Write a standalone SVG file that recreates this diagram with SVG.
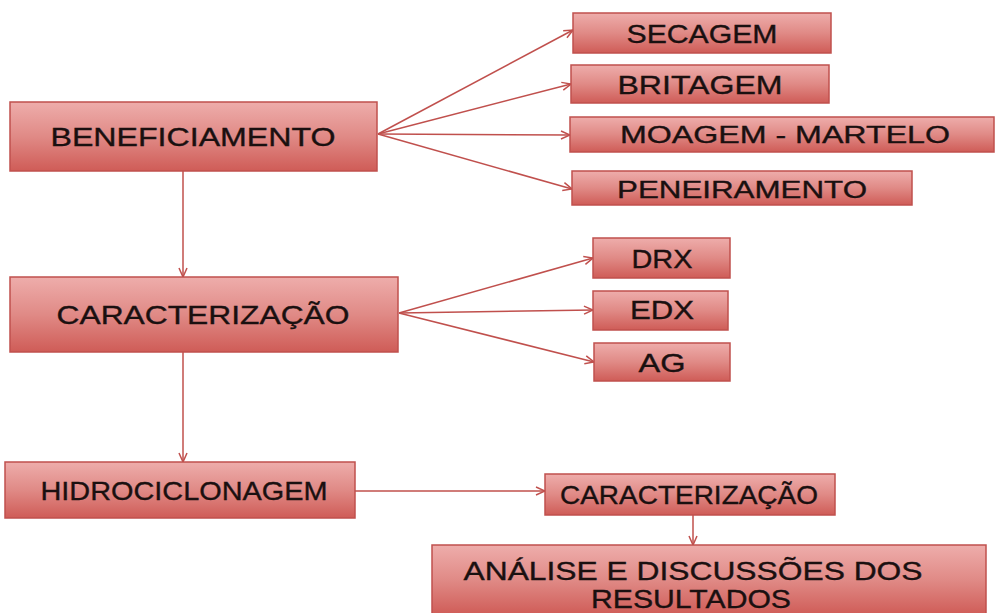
<svg xmlns="http://www.w3.org/2000/svg" width="995" height="613" viewBox="0 0 995 613">
<style>
.box{fill:url(#g);stroke:#c0504d;stroke-width:1.5}
.t{font-family:"Liberation Sans",Arial,sans-serif;fill:#1a1010;stroke:#1a1010;stroke-width:0.35;text-anchor:middle}
.ln{stroke:#c0504d;stroke-width:1.5;fill:none;marker-end:url(#a)}
</style>
<defs>
<linearGradient id="g" x1="0" y1="0" x2="0" y2="1">
<stop offset="0" stop-color="#eeadab"/>
<stop offset="0.5" stop-color="#e08a86"/>
<stop offset="1" stop-color="#cf5c57"/>
</linearGradient>
<marker id="a" viewBox="0 0 10 10" refX="10" refY="5" markerWidth="10" markerHeight="10" markerUnits="userSpaceOnUse" orient="auto">
<path d="M1,1 L10,5 L1,9" fill="none" stroke="#c0504d" stroke-width="1.5"/>
</marker>
</defs>
<rect width="995" height="613" fill="#ffffff"/>
<g id="connectors">
<line class="ln" x1="378" y1="134" x2="573" y2="30"/>
<line class="ln" x1="378" y1="134" x2="571" y2="84"/>
<line class="ln" x1="378" y1="134" x2="570" y2="135"/>
<line class="ln" x1="378" y1="134" x2="572" y2="189"/>
<line class="ln" x1="183" y1="171" x2="183" y2="277"/>
<line class="ln" x1="399" y1="313" x2="593" y2="258"/>
<line class="ln" x1="399" y1="313" x2="593" y2="310"/>
<line class="ln" x1="399" y1="313" x2="594" y2="362"/>
<line class="ln" x1="183" y1="352" x2="183" y2="462"/>
<line class="ln" x1="355" y1="491" x2="545" y2="491"/>
<line class="ln" x1="693" y1="515" x2="693" y2="545"/>
</g>
<g id="beneficiamento"><rect class="box" x="10" y="102" width="367" height="69"/><text class="t" x="193" y="146" font-size="25" textLength="285" lengthAdjust="spacingAndGlyphs">BENEFICIAMENTO</text></g>
<g id="secagem"><rect class="box" x="573" y="13" width="258" height="40"/><text class="t" x="702" y="43" font-size="25" textLength="151" lengthAdjust="spacingAndGlyphs">SECAGEM</text></g>
<g id="britagem"><rect class="box" x="571" y="65" width="258" height="38"/><text class="t" x="700" y="94" font-size="25" textLength="165" lengthAdjust="spacingAndGlyphs">BRITAGEM</text></g>
<g id="moagem"><rect class="box" x="570" y="117" width="424" height="35"/><text class="t" x="785" y="143" font-size="24" textLength="330" lengthAdjust="spacingAndGlyphs">MOAGEM - MARTELO</text></g>
<g id="peneiramento"><rect class="box" x="572" y="171" width="340" height="34"/><text class="t" x="742" y="198" font-size="24" textLength="250" lengthAdjust="spacingAndGlyphs">PENEIRAMENTO</text></g>
<g id="caracterizacao"><rect class="box" x="10" y="277" width="388" height="75"/><text class="t" x="203" y="324" font-size="25" textLength="293" lengthAdjust="spacingAndGlyphs">CARACTERIZAÇÃO</text></g>
<g id="drx"><rect class="box" x="593" y="238" width="137" height="40"/><text class="t" x="662" y="268" font-size="25" textLength="61" lengthAdjust="spacingAndGlyphs">DRX</text></g>
<g id="edx"><rect class="box" x="593" y="291" width="135" height="39"/><text class="t" x="662" y="319" font-size="25" textLength="64" lengthAdjust="spacingAndGlyphs">EDX</text></g>
<g id="ag"><rect class="box" x="594" y="343" width="136" height="38"/><text class="t" x="662" y="372" font-size="25" textLength="47" lengthAdjust="spacingAndGlyphs">AG</text></g>
<g id="hidrociclonagem"><rect class="box" x="5" y="462" width="350" height="56"/><text class="t" x="184" y="500" font-size="26" textLength="287" lengthAdjust="spacingAndGlyphs">HIDROCICLONAGEM</text></g>
<g id="caracterizacao2"><rect class="box" x="545" y="474" width="290" height="41"/><text class="t" x="689" y="504" font-size="25" textLength="258" lengthAdjust="spacingAndGlyphs">CARACTERIZAÇÃO</text></g>
<g id="analise"><rect class="box" x="432" y="545" width="554" height="70"/><text class="t" x="693" y="580" font-size="25" textLength="459" lengthAdjust="spacingAndGlyphs">ANÁLISE E DISCUSSÕES  DOS</text><text class="t" x="691" y="608" font-size="25" textLength="200" lengthAdjust="spacingAndGlyphs">RESULTADOS</text></g>
</svg>
